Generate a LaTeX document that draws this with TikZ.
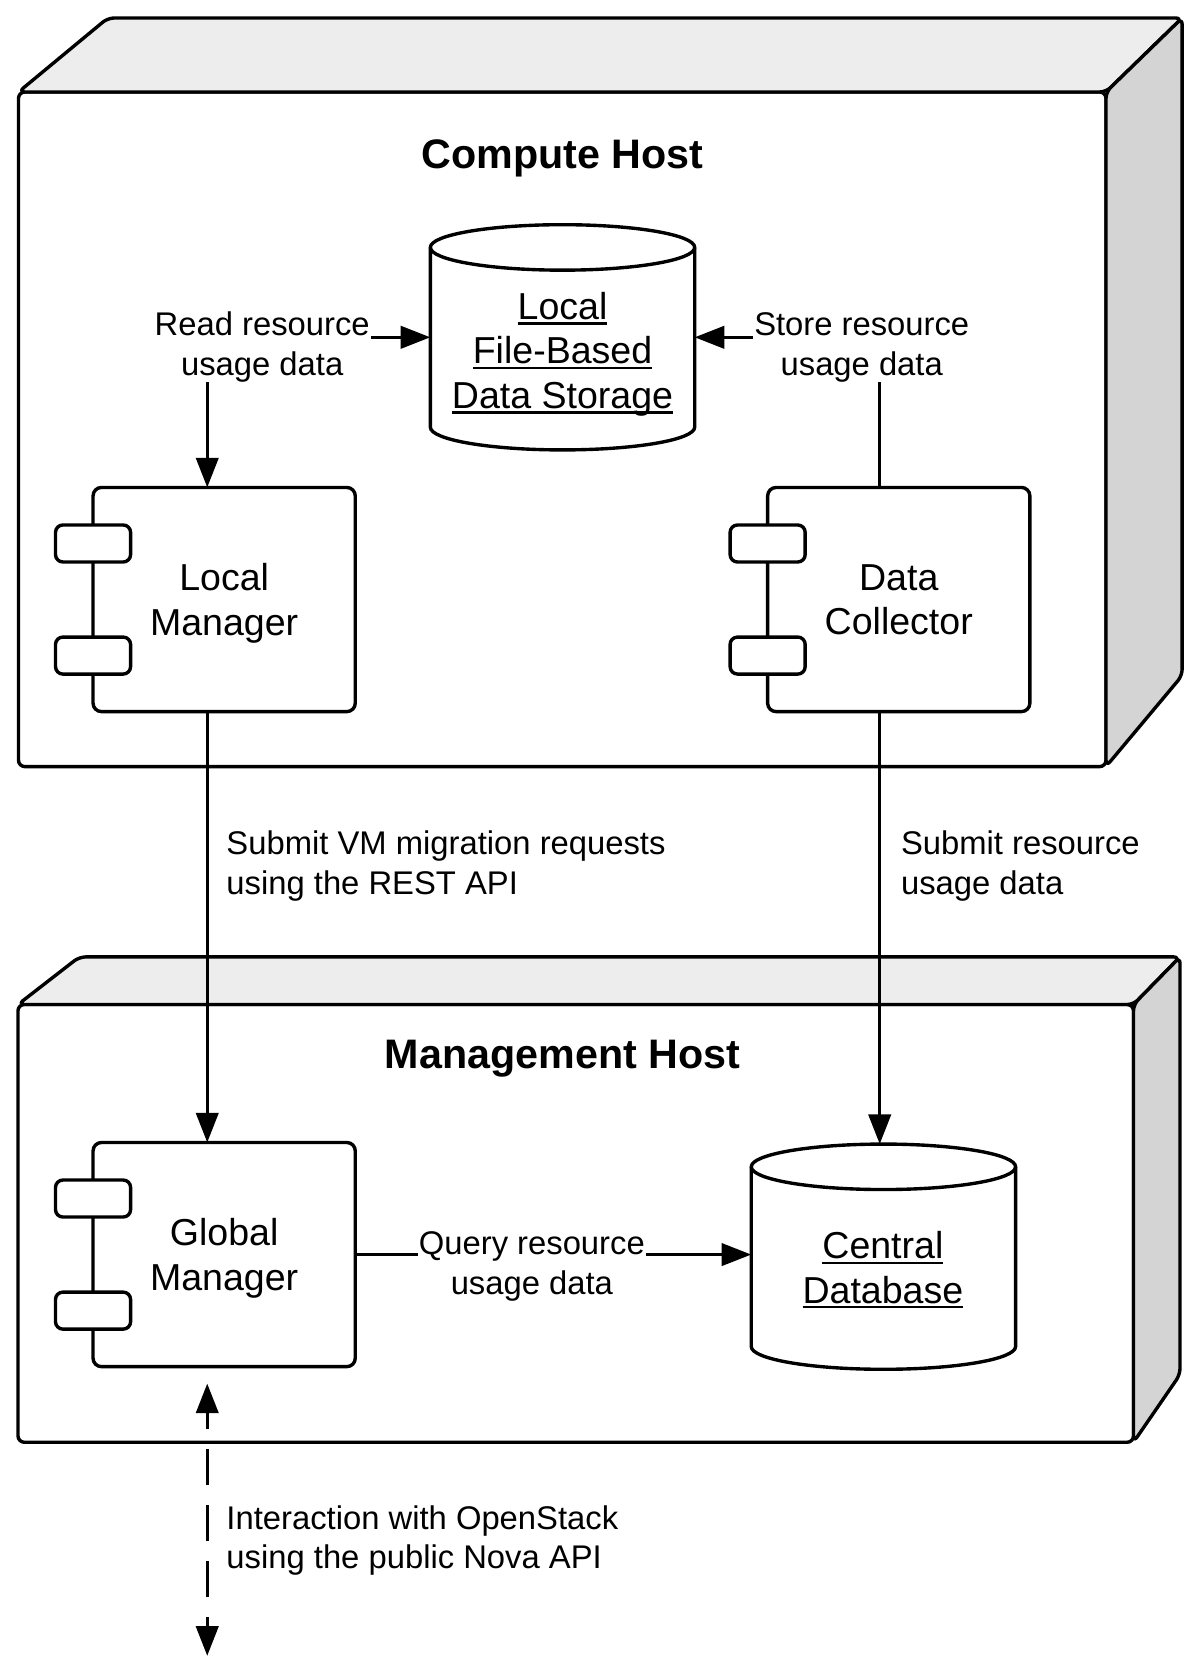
\documentclass[tikz,border=0pt]{standalone}
\usepackage{fontspec}
\setmainfont{Liberation Sans}
\usepackage{tikz}
\usetikzlibrary{arrows.meta,calc}

\tikzset{
  hostfront/.style={draw, fill=white, line width=3.2pt, rounded corners=6pt, outer sep=0pt, inner sep=0pt},
  hosttop/.style={draw, fill=black!7, line width=3.2pt, rounded corners=6pt, line join=round},
  hostside/.style={draw, fill=black!17, line width=3.2pt, rounded corners=6pt, line join=round},
  hosttitle/.style={font=\fontsize{39}{46}\selectfont\bfseries},
  compbox/.style={draw, fill=white, line width=3.2pt, rounded corners=8pt, minimum width=248pt, minimum height=212pt, outer sep=0pt, align=center, text depth=0pt, font=\fontsize{35.5}{42}\selectfont},
  comptab/.style={draw, fill=white, line width=3.2pt, rounded corners=7pt, minimum width=71pt, minimum height=35pt, inner sep=0pt},
  dbbox/.style={minimum width=250pt, minimum height=213pt, inner sep=0pt, outer sep=0pt},
  dbline/.style={draw, fill=white, line width=3.2pt},
  dbtext/.style={align=center, inner sep=0pt, font=\fontsize{35.5}{42}\selectfont},
  lbl/.style={align=center, fill=white, inner xsep=1pt, inner ysep=0pt, font=\fontsize{31}{37.5}\selectfont},
  conn/.style={line width=3.2pt, >={Triangle[length=28pt, width=21pt]}, ->},
}

% underlined text, rule crossing the descenders
\newcommand\undl[1]{\setbox0\hbox{#1}\rlap{\rule[-5pt]{\wd0}{2.2pt}}\box0}
% the two tabs of a component box
\newcommand\comptabs[1]{%
  \node[comptab] (#1taba) at ($(#1.north west)!.25!(#1.south west)$) {};
  \node[comptab] (#1tabb) at ($(#1.north west)!.75!(#1.south west)$) {};}
% cylinder round a dbbox node
\newcommand\dbdraw[2]{%
  \path[dbline] ([yshift=-21.5pt]#1.north west) -- ([yshift=21.5pt]#1.south west)
    arc[start angle=180, end angle=360, x radius=#2, y radius=21.5pt]
    -- ([yshift=-21.5pt]#1.north east)
    arc[start angle=0, end angle=180, x radius=#2, y radius=21.5pt] -- cycle;
  \path[dbline, fill=none] ([yshift=-21.5pt]#1.north west)
    arc[start angle=180, end angle=360, x radius=#2, y radius=21.5pt];}

\begin{document}
\begin{tikzpicture}[x=1pt, y=-1pt]
    \useasboundingbox (0,0) rectangle (1135,1569);

    % compute host
    \node[hostfront, minimum width=1028.5pt, minimum height=638pt] (compute) at (531.75,406) {};
    \path[hosttop] (compute.north west) -- ++(84.5,-70) -- ([shift={(72,-70)}]compute.north east) -- (compute.north east) -- cycle;
    \path[hostside] (compute.north east) -- ++(72,-70) -- ++(0,622) -- (compute.south east) -- cycle;
    \node[hosttitle] (computetitle) at (532,150) {Compute Host};

    % management host
    \node[hostfront, minimum width=1055pt, minimum height=414pt] (mgmt) at (544.5,1157) {};
    \path[hosttop] (mgmt.north west) -- ++(58,-45) -- ([shift={(44,-45)}]mgmt.north east) -- (mgmt.north east) -- cycle;
    \path[hostside] (mgmt.north east) -- ++(44,-45) -- ++(0,395) -- (mgmt.south east) -- cycle;
    \node[hosttitle] (mgmttitle) at (532,1001) {Management Host};

    % components
    \node[compbox] (lm) at (212,567) {Local\\Manager};
    \comptabs{lm}
    \node[compbox] (dc) at (850,567) {Data\\Collector};
    \comptabs{dc}
    \node[compbox] (gm) at (212,1186.5) {Global\\Manager};
    \comptabs{gm}

    % storages
    \node[dbbox] (store) at (532,319) {};
    \dbdraw{store}{125pt}
    \node[dbtext] (storetext) at (532,335) {\undl{Local}\\\undl{File-Based}\\\undl{Data Storage}};
    \node[dbbox] (db) at (835.5,1188.5) {};
    \dbdraw{db}{125pt}
    \node[dbtext] (dbtext) at (835,1201) {\undl{Central}\\\undl{Database}};

    % connectors
    \coordinate (lmout) at ([xshift=-16pt]lm.south);
    \coordinate (dcout) at ([xshift=-18pt]dc.south);
    \draw[conn, <->] ([xshift=-16pt]lm.north) |- (store.west);
    \draw[conn] ([xshift=-18pt]dc.north) |- (store.east);
    \draw[conn] (lmout) -- (lmout |- gm.north);
    \draw[conn] (dcout) -- (dcout |- db.north);
    \draw[conn] (gm.east) -- (gm.east -| db.west);
    \coordinate (novatop) at ([xshift=-16pt, yshift=-16pt]gm.south);
    \coordinate (novabot) at (196,1566);
    \draw[conn, <->, dash pattern=on 34pt off 19pt, dash phase=18pt] (novatop) -- (novabot);

    % labels
    \node[lbl] (readlbl) at (248,328.5) {Read resource\\usage data};
    \node[lbl] (storelbl) at (815,328.5) {Store resource\\usage data};
    \node[lbl, anchor=west, align=left] (submitvmlbl) at (213,819) {Submit VM migration requests\\using the REST API};
    \node[lbl, anchor=west, align=left] (submitlbl) at (851,819) {Submit resource\\usage data};
    \node[lbl] (querylbl) at (503,1197.5) {Query resource\\usage data};
    \node[lbl, anchor=west, align=left] (novalbl) at (213,1457) {Interaction with OpenStack\\using the public Nova API};
\end{tikzpicture}
\end{document}
